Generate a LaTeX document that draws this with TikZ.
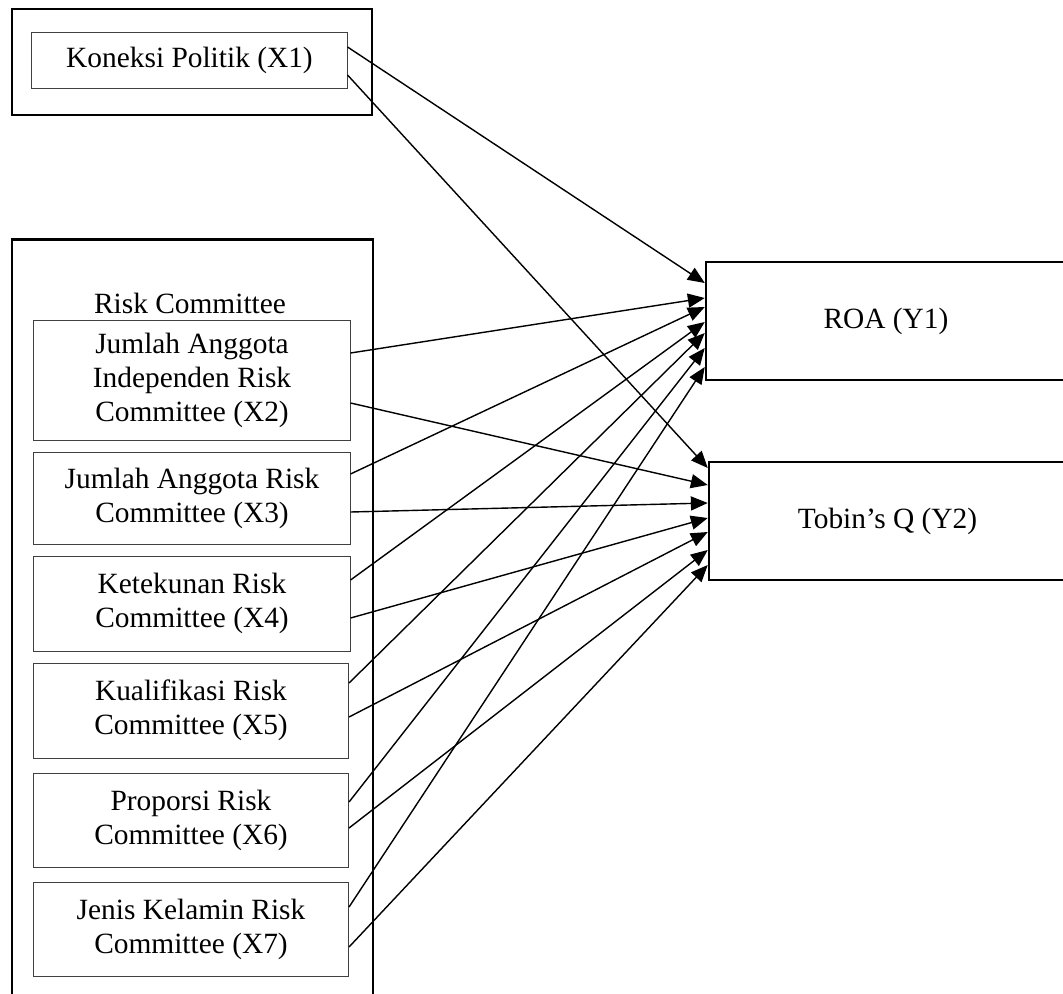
\documentclass[tikz,border=0pt]{standalone}
\usepackage{fontspec}
\setmainfont{Liberation Serif}
\usetikzlibrary{arrows.meta,calc}

\begin{document}
\begin{tikzpicture}[x=0.025cm,y=-0.025cm,
	bingkai/.style={draw,line width=1.6pt,inner sep=0pt},
	kotak/.style={draw=black!75,line width=0.7pt,align=center,inner sep=0pt,font=\fontsize{20.9}{24.2}\selectfont},
	hasil/.style={draw,line width=1.7pt,align=center,inner sep=0pt,font=\fontsize{20.9}{24.2}\selectfont},
	panah/.style={line width=1pt,-{Triangle[length=12pt,width=10pt]}}]
	 \clip (0,0) rectangle (1063,993);
	 % kelompok kiri
	 \node[bingkai,minimum width=9cm,minimum height=2.65cm] (bingkaiA) at (192,62) {};
	 \node[kotak,minimum width=7.875cm,minimum height=1.4cm] (x1) at (189.5,60) {Koneksi Politik (X1)};
	 \node[bingkai,minimum width=9.025cm,minimum height=19.25cm] (bingkaiB) at (192.5,624.5) {};
	 \node[font=\fontsize{20.9}{24.2}\selectfont] (judul) at (190,303) {Risk Committee};
	 \node[kotak,minimum width=7.9cm,minimum height=2.975cm] (x2) at (192,380.5) {Jumlah Anggota\\Independen Risk\\Committee (X2)};
	 \node[kotak,minimum width=7.9cm,minimum height=2.3cm] (x3) at (192,498) {Jumlah Anggota Risk\\Committee (X3)};
	 \node[kotak,minimum width=7.9cm,minimum height=2.375cm] (x4) at (192,603.5) {Ketekunan Risk\\Committee (X4)};
	 \node[kotak,minimum width=7.875cm,minimum height=2.375cm] (x5) at (191,710.5) {Kualifikasi Risk\\Committee (X5)};
	 \node[kotak,minimum width=7.875cm,minimum height=2.35cm] (x6) at (191,820) {Proporsi Risk\\Committee (X6)};
	 \node[kotak,minimum width=7.875cm,minimum height=2.35cm] (x7) at (191,929) {Jenis Kelamin Risk\\Committee (X7)};
	 % variabel Y
	 \node[hasil,minimum width=9cm,minimum height=2.95cm] (roa) at (886,321) {ROA (Y1)};
	 \node[hasil,minimum width=8.925cm,minimum height=2.95cm] (tobin) at (887.5,521) {Tobin’s Q (Y2)};
	 % panah
	 \foreach \n/\a/\p/\b/\q in {x1/-13/-38/15/-53, x2/-27.5/-23/22.5/-36, x3/-24/-14/14/-18, x4/-23.5/1/14.5/-3, x5/-27.5/12/6.5/11, x6/-18/27/8/29, x7/-22/46/18/44}{
	 	\draw[panah] ($(\n.east)+(0,\a)$) -- ($(roa.west)+(0,\p)$);
	 	\draw[panah] ($(\n.east)+(0,\b)$) -- ($(tobin.west)+(0,\q)$);
	 }
\end{tikzpicture}
\end{document}
